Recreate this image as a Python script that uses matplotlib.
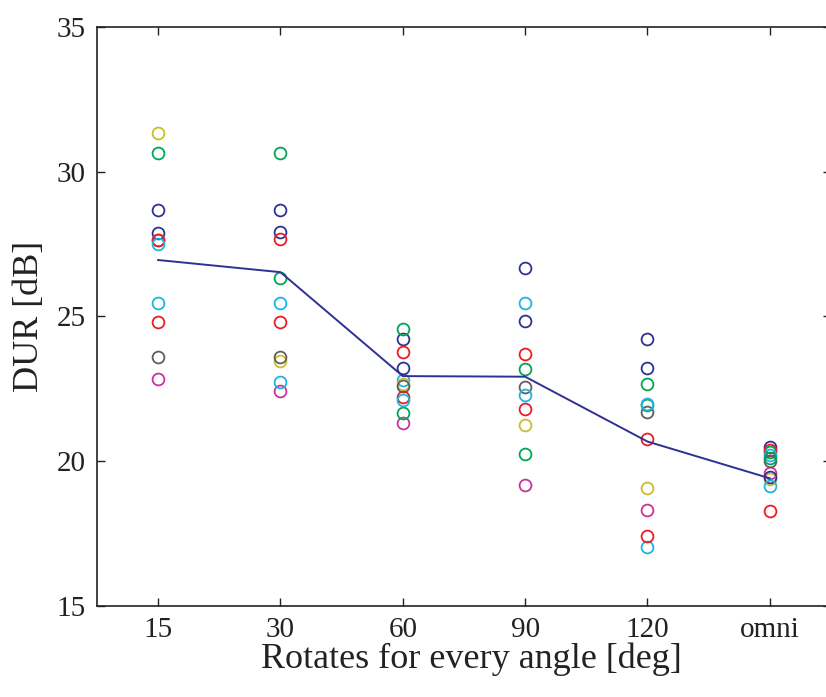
import numpy as np
import matplotlib
matplotlib.use('Agg')
import matplotlib.pyplot as plt

# Conditions on the x axis
angles = ['15', '30', '60', '90', '120', 'omni']

# DUR [dB] per subject, one value per condition
s1 = [28.68, 28.68, 24.22, 26.67, 24.22, 20.50]
s2 = [30.64, 30.64, 24.56, 23.19, 22.66, 20.33]
s3 = [24.80, 24.80, 23.78, 23.70, 20.76, 20.39]
s4 = [25.48, 25.48, 22.81, 25.48, 17.03, 20.22]
s5 = [22.83, 22.44, 21.33, 19.18, 18.32, 19.61]
s6 = [31.33, 23.47, 22.66, 21.25, 19.07, 19.38]
s7 = [23.61, 23.59, 22.60, 22.58, 21.71, 20.02]
s8 = [27.87, 27.93, 23.21, 24.84, 23.21, 19.47]
s9 = [27.64, 26.32, 21.66, 20.24, 21.95, 20.10]
s10 = [27.64, 27.67, 22.23, 21.80, 17.42, 18.29]
s11 = [27.49, 22.75, 22.12, 22.29, 21.97, 19.15]

# average curve
avg_dur = [26.95, 26.53, 22.94, 22.92, 20.68, 19.41]

subjects = [s1, s2, s3, s4, s5, s6, s7, s8, s9, s10, s11]
# matlab-like colour order: b g r c m y k
cols = ['#2e3192', '#00a651', '#ed1c24', '#1cb5e3', '#c8339b', '#cbbd2e', '#5f5f5f']

plt.rcParams['font.family'] = ['Liberation Serif', 'DejaVu Serif']

fig = plt.figure(figsize=(8.26, 6.97), dpi=100)
ax = fig.add_axes([0.1174, 0.1306, 0.8886, 0.8307])

x = np.arange(1, len(angles) + 1)
for i, s in enumerate(subjects):
    ax.plot(x, s, 'o', mfc='none', mec=cols[i % 7], ms=8.5, mew=1.3)
ax.plot(x, avg_dur, '-', color='#2e3192', lw=1.4, zorder=5)

ax.set_xlim(0.5, 6.5)
ax.set_ylim(15, 35)
ax.set_xticks(x)
ax.set_xticklabels(angles)
ax.set_yticks([15, 20, 25, 30, 35])
ax.tick_params(direction='in', length=6, width=1, top=True, right=True,
               labelsize=21, colors='#222222', pad=8)
for sp in ax.spines.values():
    sp.set_linewidth(1.2)
    sp.set_color('#222222')

ax.set_xlabel('Rotates for every angle [deg]', fontsize=26, color='#222222')
ax.set_ylabel('DUR [dB]', fontsize=26, color='#222222')
ax.xaxis.label.set_va('baseline')
ax.xaxis.set_label_coords(0.5095, -0.107)
ax.yaxis.label.set_va('center')
ax.yaxis.set_label_coords(-0.0926, 0.5)

fig.savefig('out.png', dpi=100)
